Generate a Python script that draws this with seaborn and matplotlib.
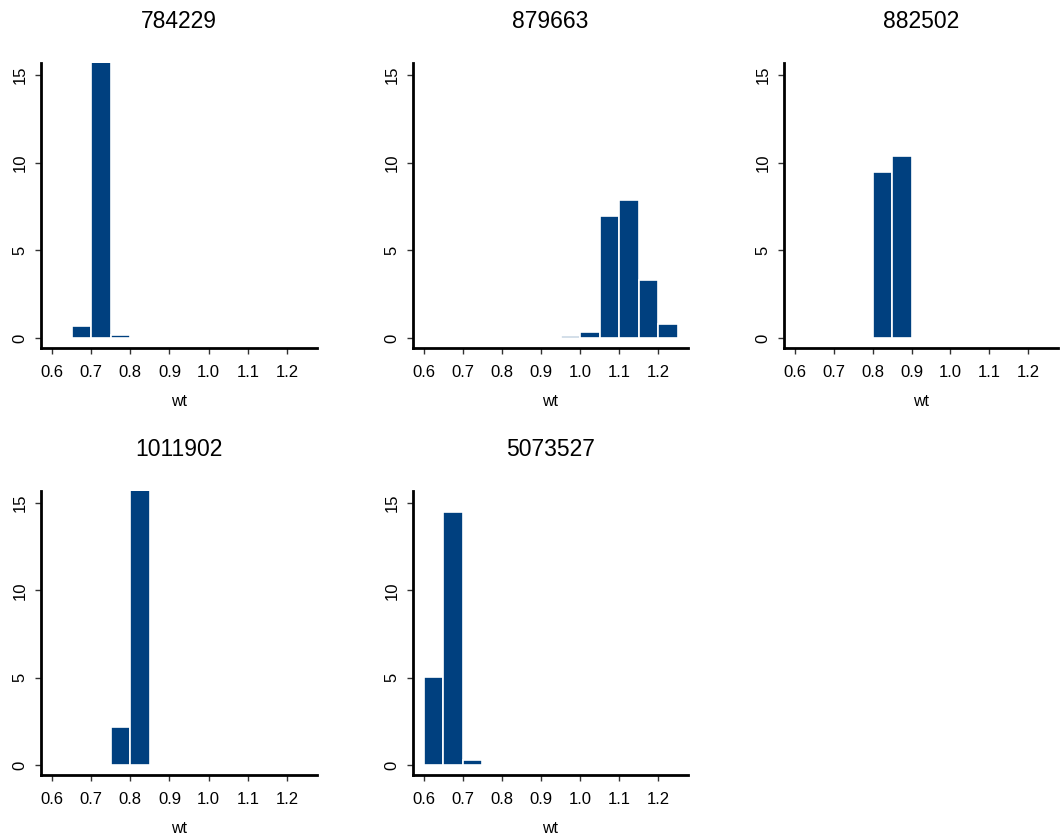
import numpy as np
import pandas as pd
import matplotlib
matplotlib.use("Agg")
import matplotlib.pyplot as plt
import seaborn as sns

# Histogram bin edges (width 0.05) shared by all panels
edges = [0.60, 0.65, 0.70, 0.75, 0.80, 0.85, 0.90, 0.95, 1.00, 1.05, 1.10, 1.15, 1.20, 1.25]

groups = ["784229", "879663", "882502", "1011902", "5073527"]

# Density per bin for each group
dens_784229 = [0.0, 0.7, 19.1, 0.15, 0, 0, 0, 0, 0, 0, 0, 0, 0]
dens_879663 = [0, 0, 0, 0, 0, 0.04, 0, 0.1, 0.35, 6.95, 7.85, 3.3, 0.8]
dens_882502 = [0, 0, 0, 0.02, 9.45, 10.4, 0, 0, 0, 0, 0, 0, 0]
dens_1011902 = [0, 0, 0.02, 2.2, 17.75, 0.02, 0, 0, 0, 0, 0, 0, 0]
dens_5073527 = [5.05, 14.5, 0.3, 0, 0, 0, 0, 0, 0, 0, 0, 0, 0]

densities = [dens_784229, dens_879663, dens_882502, dens_1011902, dens_5073527]

xticks = [0.6, 0.7, 0.8, 0.9, 1.0, 1.1, 1.2]
xticklabels = ["0.6", "0.7", "0.8", "0.9", "1.0", "1.1", "1.2"]
yticks = [0, 5, 10, 15]

sns.set_style("white")
plt.rcParams["font.family"] = ["Liberation Sans", "DejaVu Sans"]
plt.rcParams["text.color"] = "black"
plt.rcParams["xtick.labelcolor"] = "black"
plt.rcParams["ytick.labelcolor"] = "black"

BAR = "#00407f"

fig = plt.figure(figsize=(10.64, 8.39), dpi=100)

col_left = [41, 413, 784]
col_width = [276, 275, 274]
row_top = [63, 491]
row_bottom = [348, 775]
W, H = 1064, 839

mids = [(a + b) / 2 for a, b in zip(edges[:-1], edges[1:])]

for i, (name, dens) in enumerate(zip(groups, densities)):
    r, c = divmod(i, 3)
    ax = fig.add_axes([col_left[c] / W, 1 - row_bottom[r] / H,
                       col_width[c] / W, (row_bottom[r] - row_top[r]) / H])
    df = pd.DataFrame({"wt": mids, "density": dens})
    sns.histplot(data=df, x="wt", weights="density", bins=edges, stat="count",
                 color=BAR, alpha=1, edgecolor="white", linewidth=1.2, ax=ax)
    ax.set_xlim(0.572, 1.2766)
    ax.set_ylim(-0.57, 15.69)
    ax.set_xticks(xticks)
    ax.set_xticklabels(xticklabels)
    ax.set_yticks(yticks)
    ax.set_yticklabels([str(t) for t in yticks], rotation=90, va="center")
    ax.tick_params(axis="both", which="major", direction="out", length=4.5,
                   width=1, color="#333333", labelsize=12,
                   bottom=True, left=True)
    ax.tick_params(axis="x", pad=8)
    ax.tick_params(axis="y", pad=5)
    for s in ["top", "right"]:
        ax.spines[s].set_visible(False)
    for s in ["left", "bottom"]:
        ax.spines[s].set_color("black")
        ax.spines[s].set_linewidth(2)
    ax.set_xlabel("wt", fontsize=11.5, labelpad=10, color="black")
    ax.set_ylabel("")
    ax.set_title(name, fontsize=16.5, pad=25, color="black")

fig.savefig("out.png", dpi=100, facecolor="white")
